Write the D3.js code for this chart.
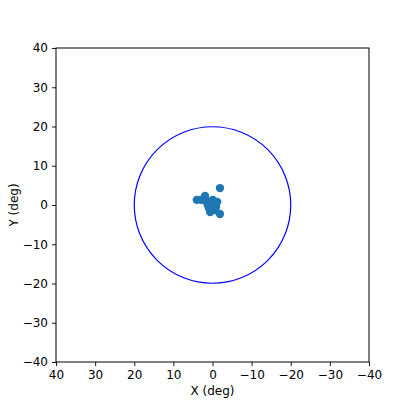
<!DOCTYPE html>
<html><head><meta charset="utf-8">
<script src="https://cdn.jsdelivr.net/npm/d3@7"></script>
<style>body{margin:0;background:#fff}svg{display:block}text{font-family:"DejaVu Sans",sans-serif}</style>
</head><body>
<svg id="c" width="415" height="415"></svg>
<script>
const xVals = [4.0, 2.9, 2.4, 1.9, 1.2, 0.4, -0.1, -1.2, -0.9, 0.9, -0.6, 0.6, -1.9, -1.9, 1.5, 0.0, -0.4, 1.0];
const yVals = [1.3, 1.3, 1.5, 2.3, 0.0, 0.3, 1.3, 0.8, -0.5, -0.8, -1.3, -1.8, -2.3, 4.3, 0.8, -0.3, 0.5, 0.9];
const circleRadius = [20];
const tickVals = [40, 30, 20, 10, 0, -10, -20, -30, -40];
const xLabel = "X (deg)", yLabel = "Y (deg)";

const L = 56, R = 369, T = 48, B = 362;
const svg = d3.select("#c");
const x = d3.scaleLinear().domain([40, -40]).range([L, R]);
const y = d3.scaleLinear().domain([-40, 40]).range([B, T]);
const fmt = d => d < 0 ? "\u2212" + Math.abs(d) : String(d);

const gx = svg.append("g").attr("transform", `translate(0,${B})`)
  .call(d3.axisBottom(x).tickValues(tickVals).tickFormat(fmt).tickSize(4).tickPadding(4));
const gy = svg.append("g").attr("transform", `translate(${L},0)`)
  .call(d3.axisLeft(y).tickValues(tickVals).tickFormat(fmt).tickSize(4).tickPadding(4));
[gx, gy].forEach(g => {
  g.select(".domain").remove();
  g.selectAll("text").attr("font-size", 12).attr("fill", "#000").attr("font-family", "DejaVu Sans");
  g.selectAll("line").attr("stroke", "#000").attr("stroke-width", 0.9);
});

// frame
svg.append("rect").attr("x", L).attr("y", T).attr("width", R - L).attr("height", B - T)
  .attr("fill", "none").attr("stroke", "#000").attr("stroke-width", 1);

// circle
svg.append("g").selectAll("circle.ring").data(circleRadius).join("circle")
  .attr("cx", x(0)).attr("cy", y(0)).attr("r", d => x(0) - x(d))
  .attr("fill", "none").attr("stroke", "blue").attr("stroke-width", 1.2);

// points
svg.append("g").selectAll("circle.pt").data(xVals.map((v, i) => [v, yVals[i]])).join("circle")
  .attr("cx", d => x(d[0])).attr("cy", d => y(d[1])).attr("r", 4.2).attr("fill", "#1f77b4");

svg.append("text").attr("x", (L + R) / 2).attr("y", 395).attr("text-anchor", "middle")
  .attr("font-size", 12).text(xLabel);
svg.append("text").attr("transform", `translate(18,${(T + B) / 2}) rotate(-90)`)
  .attr("text-anchor", "middle").attr("font-size", 12).text(yLabel);
</script>
</body></html>
